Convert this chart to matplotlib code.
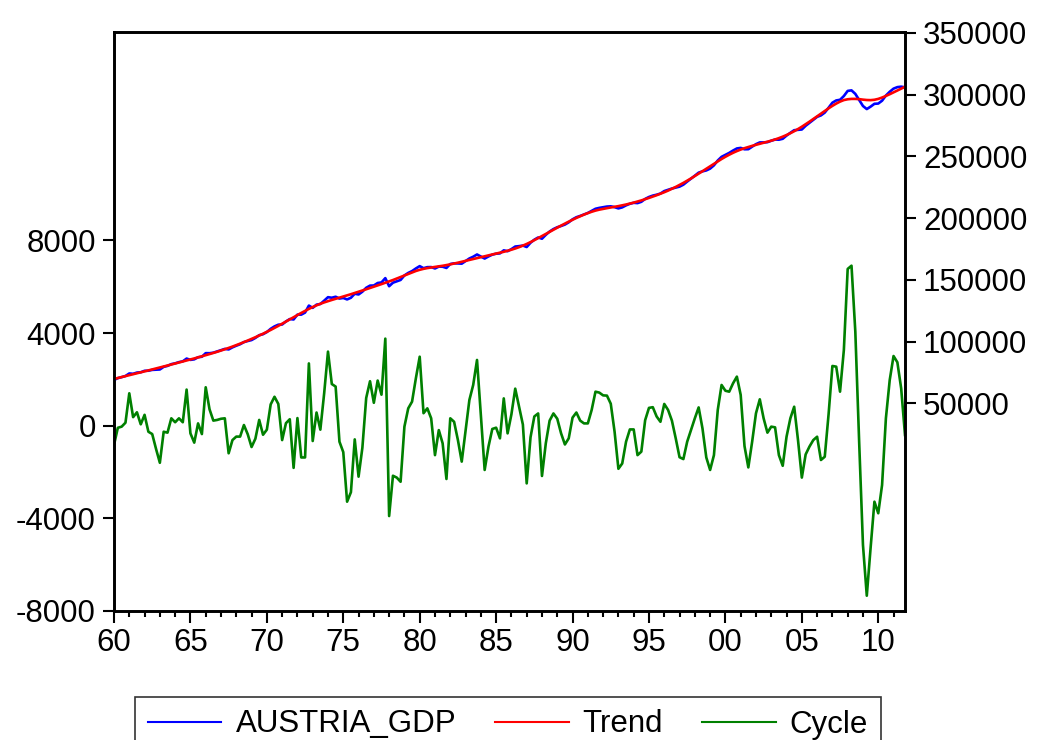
import numpy as np
import matplotlib
matplotlib.use("Agg")
import matplotlib.pyplot as plt
from matplotlib.lines import Line2D

plt.rcParams['font.family'] = ['Liberation Sans', 'DejaVu Sans']

# Quarterly sample 1960Q1 - 2011Q4 (Hodrick-Prescott decomposition)
start_year = 1960

# HP trend of real GDP (right axis)
trend = [
    69700, 70460, 71220, 71980, 72750, 73520, 74290, 75060, 75840, 76620,
    77400, 78190, 78980, 79780, 80580, 81390, 82200, 83010, 83830, 84650,
    85480, 86320, 87180, 88060, 88960, 89850, 90770, 91720, 92710, 93740,
    94810, 95930, 97100, 98300, 99540, 100820, 102140, 103500, 104900, 106350,
    107850, 109410, 111030, 112710, 114430, 116180, 117950, 119720, 121470, 123190,
    124860, 126460, 127960, 129340, 130590, 131720, 132750, 133710, 134630, 135540,
    136460, 137400, 138360, 139340, 140340, 141350, 142370, 143400, 144440, 145490,
    146550, 147630, 148730, 149850, 151080, 152340, 153610, 154860, 156060, 157180,
    158130, 158910, 159530, 160030, 160470, 160910, 161390, 161930, 162530, 163190,
    163900, 164650, 165420, 166200, 166970, 167720, 168450, 169160, 169860, 170560,
    171260, 171980, 172730, 173530, 174410, 175390, 176490, 177720, 179080, 180560,
    182140, 183790, 185490, 187210, 188930, 190630, 192310, 193960, 195580, 197160,
    198690, 200160, 201560, 202870, 204070, 205150, 206110, 206870, 207510, 208080,
    208620, 209160, 209730, 210350, 211030, 211770, 212570, 213430, 214350, 215330,
    216370, 217450, 218570, 219740, 220980, 222310, 223750, 225270, 226870, 228550,
    230310, 232150, 234070, 236060, 238010, 240010, 242030, 244040, 246010, 247910,
    249710, 251390, 252930, 254320, 255560, 256660, 257650, 258550, 259390, 260200,
    261010, 261850, 262750, 263730, 264810, 266010, 267340, 268810, 270420, 272170,
    274050, 276050, 278150, 280320, 282520, 284710, 286850, 288950, 290950, 292800,
    294400, 295650, 296300, 296600, 296600, 296400, 296000, 295700, 295600, 295900,
    296600, 297700, 299000, 300400, 301900, 303400, 304900, 306400,
]

# Cyclical component (left axis)
cycle = [
    -830, -90, -40, 130, 1400, 370, 580, 60, 470, -260,
    -360, -1000, -1600, -260, -300, 320, 150, 320, 150, 1560,
    -330, -730, 100, -360, 1660, 710, 220, 250, 300, 320,
    -1190, -620, -470, -470, 30, -370, -920, -560, 250, -390,
    -170, 920, 1250, 940, -620, 110, 280, -1820, 330, -1370,
    -1370, 2690, -660, 570, -170, 1400, 3200, 1800, 1690, -690,
    -1140, -3280, -2870, -590, -2200, -950, 1200, 1920, 990, 1950,
    1340, 3760, -3900, -2160, -2240, -2420, -40, 750, 1040, 2050,
    2980, 540, 750, 320, -1270, -190, -760, -2300, 320, 170,
    -620, -1550, -230, 1110, 1760, 2840, 460, -1910, -900, -140,
    -85, -545, 1180, -330, 490, 1600, 820, 50, -2490, -500,
    400, 530, -2170, -760, 220, 530, 300, -330, -810, -545,
    350, 570, 220, 100, 100, 680, 1470, 1430, 1310, 1300,
    950, -260, -1860, -1630, -690, -160, -160, -1270, -1120, 240,
    770, 800, 400, 170, 940, 680, 220, -545, -1360, -1440,
    -690, -185, 320, 790, -115, -1370, -1910, -1270, 680, 1760,
    1510, 1470, 1830, 2120, 1330, -880, -1800, -690, 535, 1140,
    320, -300, -40, -70, -1270, -1730, -475, 320, 820, -620,
    -2240, -1240, -900, -620, -475, -1480, -1340, 490, 2580, 2550,
    1470, 3270, 6770, 6910, 4060, -690, -5150, -7340, -5270, -3280,
    -3780, -2560, 320, 1970, 3010, 2740, 1610, -400,
]

# Observed GDP is trend plus cycle
gdp = [t + c for t, c in zip(trend, cycle)]

left_ticks = [-8000, -4000, 0, 4000, 8000]
right_ticks = [50000, 100000, 150000, 200000, 250000, 300000, 350000]
year_labels = ["60", "65", "70", "75", "80", "85", "90", "95", "00", "05", "10"]

n = len(cycle)
q = np.arange(n)

W, H = 1038, 740
fig = plt.figure(figsize=(W / 100, H / 100), dpi=100)
ax = fig.add_axes([114 / W, 1 - 611 / H, 791 / W, 579 / H])
ax2 = ax.twinx()

lw = 1.9
ax.plot(q, cycle, color='#008000', lw=lw)
ax2.plot(q, gdp, color='#0000ff', lw=lw)
ax2.plot(q, trend, color='#ff0000', lw=lw)

ax.set_xlim(0, n - 1)
ax.set_ylim(-8000, 17000)
ax2.set_ylim(-118300, 350800)

ax.set_yticks(left_ticks)
ax.set_yticklabels([str(v) for v in left_ticks])
ax2.set_yticks(right_ticks)
ax2.set_yticklabels([str(v) for v in right_ticks])

major_pos = [4 * 5 * k for k in range(len(year_labels))]
ax.set_xticks(major_pos)
ax.set_xticklabels(year_labels)
ax.set_xticks(np.arange(0, n, 4), minor=True)

fs = 22.5
ax.tick_params(axis='y', direction='out', length=8, width=1.5, labelsize=fs, pad=5)
ax.tick_params(axis='x', which='major', direction='out', length=8.5, width=1.5,
               labelsize=fs, pad=4)
ax.tick_params(axis='x', which='minor', direction='out', length=4.5, width=1.5)
ax2.tick_params(axis='y', direction='out', length=8, width=1.5, labelsize=fs, pad=5)

for a in (ax, ax2):
    for s in a.spines.values():
        s.set_linewidth(1.9)
        s.set_color('black')

handles = [Line2D([], [], color='#0000ff', lw=1.5),
           Line2D([], [], color='#ff0000', lw=1.5),
           Line2D([], [], color='#008000', lw=1.5)]
labels = ['AUSTRIA_GDP', 'Trend', 'Cycle']
leg = fig.legend(handles, labels, loc='upper center',
                 bbox_to_anchor=(508 / W, 1 - 697 / H), bbox_transform=fig.transFigure,
                 ncol=3, frameon=True, fancybox=False, shadow=False,
                 edgecolor='black', fontsize=fs, handlelength=2.35,
                 handletextpad=0.45, columnspacing=1.25, borderpad=0.4,
                 borderaxespad=0)
leg.get_frame().set_linewidth(1.2)

fig.savefig('out.png', dpi=100)
